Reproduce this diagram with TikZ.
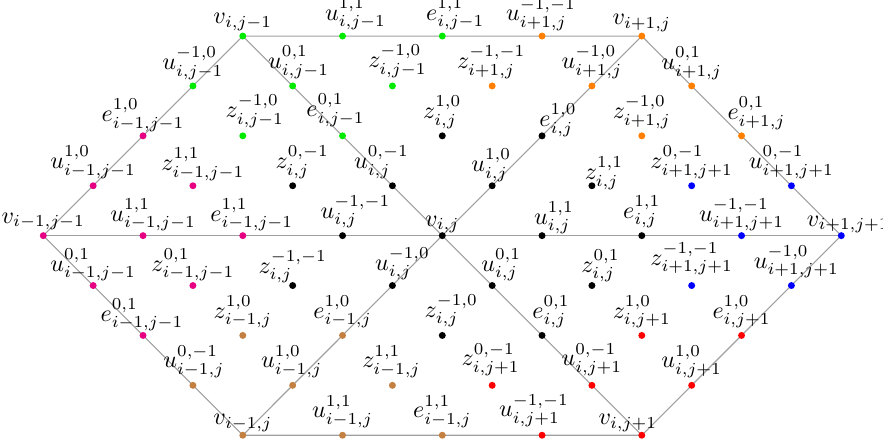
\documentclass[tikz,border=0pt]{standalone}
\usetikzlibrary{backgrounds}
\definecolor{cgreen}{RGB}{0,235,0}
\definecolor{corange}{RGB}{255,128,0}
\definecolor{cpink}{RGB}{230,0,130}
\definecolor{cbrown}{RGB}{195,128,64}
\definecolor{cblue}{RGB}{0,0,255}
\definecolor{cred}{RGB}{255,0,0}
\definecolor{cblack}{RGB}{0,0,0}
\definecolor{cline}{RGB}{160,160,160}
\tikzset{
  dot/.style={circle,inner sep=0pt,minimum size=2.9pt,draw=none},
  lab/.style={anchor=south,inner sep=0pt},
  edge/.style={draw=cline,line width=0.45pt}
}
\newcommand{\hexdot}[7]{%
  \node[dot,fill=#4] (#1) at (#2,#3) {};
  \node[lab] (#1-l) at ([xshift=#5*0.41667pt,yshift=(#6-4)*0.41667pt]#1.center) {$#7$};}
\begin{document}
\begin{tikzpicture}[x=41.5625pt,y=20.79pt]
\useasboundingbox (-4.434,-4.254) rectangle (4.418,4.723);
% row 4
\hexdot{vijm1}{-2}{4}{cgreen}{0}{9}{v_{i,j-1}}
\hexdot{a2}{-1}{4}{cgreen}{13}{9.5}{u^{1,1}_{i,j-1}}
\hexdot{a3}{0}{4}{cgreen}{13}{9.5}{e^{1,1}_{i,j-1}}
\hexdot{a4}{1}{4}{corange}{-1}{9}{u^{-1,-1}_{i+1,j}}
\hexdot{vip1j}{2}{4}{corange}{0}{8}{v_{i+1,j}}
% row 3
\hexdot{b1}{-2.5}{3}{cgreen}{0}{10}{u^{-1,0}_{i,j-1}}
\hexdot{b2}{-1.5}{3}{cgreen}{6}{11}{u^{0,1}_{i,j-1}}
\hexdot{b3}{-0.5}{3}{cgreen}{5}{12}{z^{-1,0}_{i,j-1}}
\hexdot{b4}{0.5}{3}{corange}{-1}{11}{z^{-1,-1}_{i+1,j}}
\hexdot{b5}{1.5}{3}{corange}{0}{11}{u^{-1,0}_{i+1,j}}
\hexdot{b6}{2.5}{3}{corange}{0}{10}{u^{0,1}_{i+1,j}}
% row 2
\hexdot{c1}{-3}{2}{cpink}{0}{8}{e^{1,0}_{i-1,j-1}}
\hexdot{c2}{-2}{2}{cgreen}{12}{12}{z^{-1,0}_{i,j-1}}
\hexdot{c3}{-1}{2}{cgreen}{-7}{13}{e^{0,1}_{i,j-1}}
\hexdot{c4}{0}{2}{cblack}{0}{11}{z^{1,0}_{i,j}}
\hexdot{c5}{1}{2}{cblack}{16}{3}{e^{1,0}_{i,j}}
\hexdot{c6}{2}{2}{corange}{0}{11}{z^{-1,0}_{i+1,j}}
\hexdot{c7}{3}{2}{corange}{15}{10}{e^{0,1}_{i+1,j}}
% row 1
\hexdot{d1}{-3.5}{1}{cpink}{0}{11}{u^{1,0}_{i-1,j-1}}
\hexdot{d2}{-2.5}{1}{cpink}{10}{9}{z^{1,1}_{i-1,j-1}}
\hexdot{d3}{-1.5}{1}{cblack}{9.5}{11}{z^{0,-1}_{i,j}}
\hexdot{d4}{-0.5}{1}{cblack}{-11}{11}{u^{0,-1}_{i,j}}
\hexdot{d5}{0.5}{1}{cblack}{-1}{8}{u^{1,0}_{i,j}}
\hexdot{d6}{1.5}{1}{cblack}{12}{0}{z^{1,1}_{i,j}}
\hexdot{d7}{2.5}{1}{cblue}{0}{11}{z^{0,-1}_{i+1,j+1}}
\hexdot{d8}{3.5}{1}{cblue}{0}{11}{u^{0,-1}_{i+1,j+1}}
% row 0
\hexdot{vim1jm1}{-4}{0}{cpink}{0}{9}{v_{i-1,j-1}}
\hexdot{e2}{-3}{0}{cpink}{10}{8}{u^{1,1}_{i-1,j-1}}
\hexdot{e3}{-2}{0}{cpink}{9}{8}{e^{1,1}_{i-1,j-1}}
\hexdot{e4}{-1}{0}{cblack}{13}{11}{u^{-1,-1}_{i,j}}
\hexdot{vij}{0}{0}{cblack}{0}{6}{v_{i,j}}
\hexdot{e6}{1}{0}{cblack}{12}{5}{u^{1,1}_{i,j}}
\hexdot{e7}{2}{0}{cblack}{0}{11}{e^{1,1}_{i,j}}
\hexdot{e8}{3}{0}{cblue}{0}{8}{u^{-1,-1}_{i+1,j+1}}
\hexdot{vip1jp1}{4}{0}{cblue}{7}{6}{v_{i+1,j+1}}
% row -1
\hexdot{f1}{-3.5}{-1}{cpink}{0}{8}{u^{0,1}_{i-1,j-1}}
\hexdot{f2}{-2.5}{-1}{cpink}{0}{8}{z^{0,1}_{i-1,j-1}}
\hexdot{f3}{-1.5}{-1}{cblack}{0}{6}{z^{-1,-1}_{i,j}}
\hexdot{f4}{-0.5}{-1}{cblack}{10}{9}{u^{-1,0}_{i,j}}
\hexdot{f5}{0.5}{-1}{cblack}{9}{8}{u^{0,1}_{i,j}}
\hexdot{f6}{1.5}{-1}{cblack}{8.5}{7}{z^{0,1}_{i,j}}
\hexdot{f7}{2.5}{-1}{cblue}{0}{14}{z^{-1,-1}_{i+1,j+1}}
\hexdot{f8}{3.5}{-1}{cblue}{5}{11}{u^{-1,0}_{i+1,j+1}}
% row -2
\hexdot{g1}{-3}{-2}{cpink}{-1}{8}{e^{0,1}_{i-1,j-1}}
\hexdot{g2}{-2}{-2}{cbrown}{0}{11}{z^{1,0}_{i-1,j}}
\hexdot{g3}{-1}{-2}{cbrown}{0}{11}{e^{1,0}_{i-1,j}}
\hexdot{g4}{0}{-2}{cblack}{9}{12}{z^{-1,0}_{i,j}}
\hexdot{g5}{1}{-2}{cblack}{9}{11}{e^{0,1}_{i,j}}
\hexdot{g6}{2}{-2}{cred}{0}{11}{z^{1,0}_{i,j+1}}
\hexdot{g7}{3}{-2}{cred}{0}{11}{e^{1,0}_{i,j+1}}
% row -3
\hexdot{h1}{-2.5}{-3}{cbrown}{1}{11}{u^{0,-1}_{i-1,j}}
\hexdot{h2}{-1.5}{-3}{cbrown}{-1}{11}{u^{1,0}_{i-1,j}}
\hexdot{h3}{-0.5}{-3}{cbrown}{-1}{11}{z^{1,1}_{i-1,j}}
\hexdot{h4}{0.5}{-3}{cred}{-1.5}{13}{z^{0,-1}_{i,j+1}}
\hexdot{h5}{1.5}{-3}{cred}{0}{13}{u^{0,-1}_{i,j+1}}
\hexdot{h6}{2.5}{-3}{cred}{0}{11}{u^{1,0}_{i,j+1}}
% row -4
\hexdot{vim1j}{-2}{-4}{cbrown}{0}{7}{v_{i-1,j}}
\hexdot{k2}{-1}{-4}{cbrown}{0}{11}{u^{1,1}_{i-1,j}}
\hexdot{k3}{0}{-4}{cbrown}{0}{11}{e^{1,1}_{i-1,j}}
\hexdot{k4}{1}{-4}{cred}{-8}{12}{u^{-1,-1}_{i,j+1}}
\hexdot{vijp1}{2}{-4}{cred}{-14}{7}{v_{i,j+1}}
\begin{pgfonlayer}{background}
\draw[edge] (vim1jm1.center) -- (vijm1.center) -- (vip1j.center) -- (vip1jp1.center) -- (vijp1.center) -- (vim1j.center) -- cycle;
\draw[edge] (vim1jm1.center) -- (vip1jp1.center);
\draw[edge] (vijm1.center) -- (vijp1.center);
\draw[edge] (vip1j.center) -- (vim1j.center);
\end{pgfonlayer}
\end{tikzpicture}
\end{document}
